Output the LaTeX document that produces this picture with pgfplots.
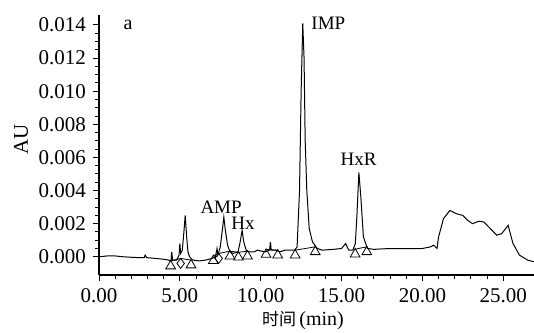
\documentclass[border=0pt]{standalone}
\usepackage{fontspec}
\setmainfont{Liberation Serif}
\newfontfamily\cjk{Noto Sans CJK SC}
\usepackage{pgfplots}
\pgfplotsset{compat=1.18}
\begin{document}
\begin{tikzpicture}
\useasboundingbox (0,0) rectangle (267pt,166pt);
\begin{axis}[
  at={(49.5pt,28.5pt)}, anchor=south west,
  width=217.5pt, height=130pt, scale only axis,
  xmin=0, xmax=26.9, ymin=-0.0011, ymax=0.0146,
  axis lines*=left, axis line style={line width=0.8pt, -},
  tick align=outside, major tick length=3pt, minor tick length=2pt,
  tick style={black, line width=0.5pt},
  xtick={0,5,10,15,20,25}, minor x tick num=4,
  ytick={0,0.002,0.004,0.006,0.008,0.010,0.012,0.014}, minor y tick num=3,
  scaled y ticks=false,
  /pgf/number format/assume math mode=true,
  xticklabel style={/pgf/number format/.cd, fixed, fixed zerofill, precision=2},
  yticklabel style={/pgf/number format/.cd, fixed, fixed zerofill, precision=3},
  tick label style={font=\fontsize{10.5}{12}\selectfont},
  xlabel={{\cjk\fontsize{8.5}{10}\selectfont 时间}{\fontsize{10}{12}\selectfont\,(min)}},
  xlabel style={at={(axis description cs:0.469,-0.175)}, anchor=center},
  ylabel={AU},
  ylabel style={at={(axis description cs:-0.179,0.52)}, anchor=center, font=\fontsize{10.5}{12}\selectfont},
  clip=false,
]
\addplot[black, line width=0.5pt] coordinates {
(0,0.0000) (0.5,0.00005) (1.0,0.00005) (1.5,0.0000) (2.0,-0.00003) (2.5,-0.00005)
(2.8,-0.00005) (2.85,0.0001) (2.95,-0.00005) (3.5,-0.0001) (4.0,-0.00015) (4.3,-0.0002)
(4.45,-0.00025) (4.5,0.0003) (4.55,-0.0002) (4.8,-0.0002) (4.95,0.0001) (5.0,0.0008)
(5.05,0.0002) (5.15,0.0004) (5.25,0.0015) (5.33,0.0025) (5.42,0.0012) (5.5,0.0003)
(5.6,0.0) (5.8,-0.0002) (6.2,-0.00025) (6.6,-0.0002) (7.0,-0.0001) (7.2,0.0)
(7.3,0.0005) (7.35,0.0001) (7.5,0.0006) (7.65,0.0018) (7.72,0.0024) (7.8,0.0017)
(7.95,0.0007) (8.1,0.0003) (8.3,0.0002) (8.6,0.0003) (8.75,0.0010) (8.85,0.0016)
(8.95,0.0009) (9.1,0.0004) (9.3,0.0003) (9.6,0.0003) (9.8,0.0004) (10.0,0.00035)
(10.3,0.0003) (10.55,0.0004) (10.6,0.0009) (10.65,0.0004) (10.9,0.0004) (11.2,0.0003)
(11.5,0.0004) (11.8,0.0004) (12.1,0.0004) (12.25,0.0006) (12.4,0.004) (12.5,0.010)
(12.6,0.0141) (12.68,0.012) (12.75,0.007) (12.85,0.004) (13.0,0.0017) (13.2,0.0009)
(13.5,0.0005) (13.8,0.0004) (14.5,0.00045) (15.0,0.0005) (15.25,0.0008) (15.45,0.0004)
(15.7,0.0004) (15.85,0.0008) (15.95,0.0025) (16.07,0.0051) (16.2,0.0035) (16.35,0.0012)
(16.6,0.0005) (17.0,0.00045) (18.0,0.0005) (19.0,0.0005) (20.0,0.0005) (20.5,0.0006)
(20.7,0.0007) (20.9,0.0005) (21.0,0.0012) (21.3,0.0023) (21.7,0.0028) (22.1,0.0026)
(22.5,0.0025) (22.8,0.0022) (23.1,0.0020) (23.5,0.00215) (23.8,0.0021) (24.2,0.0017)
(24.6,0.0013) (24.9,0.0014) (25.15,0.0017) (25.3,0.0019) (25.6,0.0008) (26.0,0.0001)
(26.5,-0.0002) (26.9,-0.0003)
};
% integration baselines
\addplot[black, line width=0.4pt, unbounded coords=jump] coordinates {
(4.43,-0.00026) (5.05,-0.0001) (5.69,-0.0002) (nan,nan)
(7.07,0.00006) (7.4,0.0002) (8.10,0.00034) (8.62,0.00027) (9.18,0.00034) (nan,nan)
(10.33,0.00044) (11.05,0.0004) (nan,nan)
(12.13,0.0004) (13.37,0.0006) (nan,nan)
(15.84,0.00046) (16.56,0.0006)
};
% peak markers
\addplot[only marks, mark=triangle, mark size=2.8pt, mark options={black, line width=0.4pt}] coordinates {
(4.43,-0.00056) (5.69,-0.00050) (7.07,-0.00024) (8.10,0.00004) (8.62,-0.00003)
(9.18,0.00004) (10.33,0.00014) (11.05,0.0001) (12.13,0.0001) (13.37,0.0003)
(15.84,0.00016) (16.56,0.0003)
};
\addplot[only marks, mark=diamond, mark size=2.5pt, mark options={black, line width=0.4pt}] coordinates {
(5.05,-0.00040) (7.40,-0.00010)
};
\node[font=\fontsize{10}{12}\selectfont] at (axis cs:1.8,0.0140) {a};
\node[font=\fontsize{9.5}{11}\selectfont] at (axis cs:7.55,0.0030) {AMP};
\node[font=\fontsize{9.5}{11}\selectfont] at (axis cs:8.9,0.00205) {Hx};
\node[font=\fontsize{9.5}{11}\selectfont, anchor=west] at (axis cs:12.7,0.0141) {IMP};
\node[font=\fontsize{9.5}{11}\selectfont] at (axis cs:16.05,0.0059) {HxR};
\end{axis}
\end{tikzpicture}
\end{document}
